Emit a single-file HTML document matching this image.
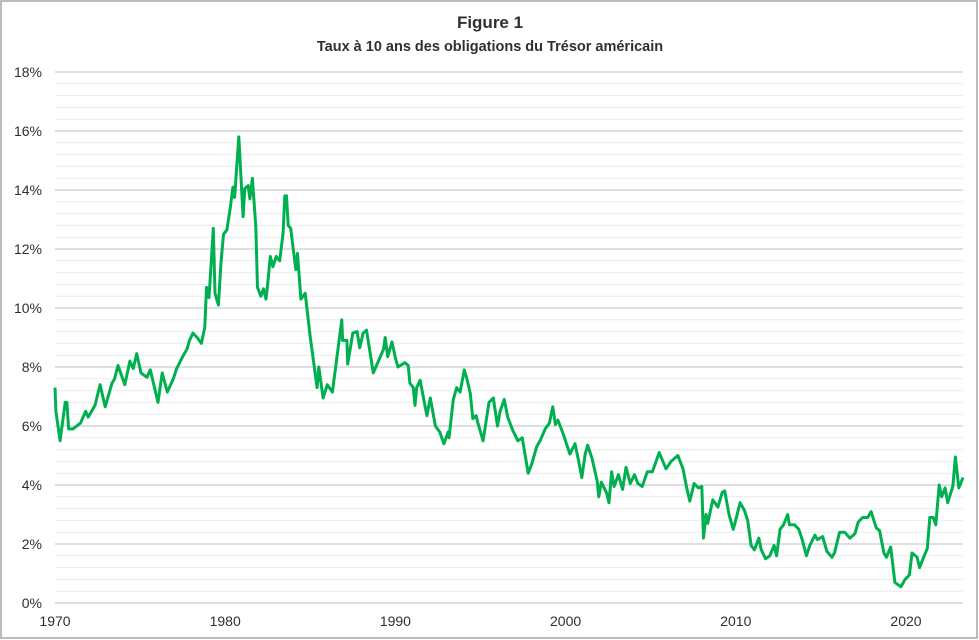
<!DOCTYPE html>
<html><head><meta charset="utf-8"><style>
body{margin:0;background:#fff;}
svg{display:block;font-family:"Liberation Sans",Arial,sans-serif;}
</style></head><body>
<svg id="chart" width="979" height="640">
<rect x="1" y="1" width="976" height="637" fill="#fff" stroke="#a6a6a6" stroke-width="1.5"/>
<text x="490" y="28" text-anchor="middle" font-size="17" font-weight="bold" fill="#303030">Figure 1</text>
<text x="490" y="51" text-anchor="middle" font-size="14.5" font-weight="bold" fill="#303030">Taux à 10 ans des obligations du Trésor américain</text>
<g id="grid"></g><g id="yticks"></g><g id="xticks"></g><g id="series"></g>
</svg>
<script>
const yearPts=[1970.0,1970.05,1970.3,1970.6,1970.7,1970.8,1971.05,1971.5,1971.8,1971.95,1972.35,1972.65,1972.95,1973.35,1973.5,1973.7,1974.1,1974.4,1974.6,1974.8,1975.05,1975.4,1975.6,1976.05,1976.3,1976.6,1976.95,1977.15,1977.5,1977.75,1977.9,1978.1,1978.35,1978.6,1978.8,1978.9,1979.05,1979.3,1979.4,1979.6,1979.75,1979.9,1980.1,1980.3,1980.45,1980.55,1980.8,1981.05,1981.15,1981.35,1981.45,1981.6,1981.8,1981.9,1982.1,1982.25,1982.4,1982.5,1982.65,1982.8,1983.0,1983.2,1983.4,1983.5,1983.6,1983.7,1983.85,1984.15,1984.25,1984.45,1984.7,1985.0,1985.4,1985.5,1985.75,1986.0,1986.3,1986.85,1986.9,1987.15,1987.2,1987.5,1987.75,1987.9,1988.1,1988.3,1988.7,1989.0,1989.3,1989.4,1989.55,1989.8,1990.0,1990.15,1990.55,1990.75,1990.85,1991.05,1991.15,1991.25,1991.45,1991.85,1992.05,1992.35,1992.6,1992.85,1993.1,1993.15,1993.4,1993.6,1993.8,1994.05,1994.2,1994.4,1994.55,1994.75,1994.85,1995.15,1995.5,1995.75,1996.0,1996.15,1996.4,1996.6,1996.9,1997.2,1997.45,1997.8,1998.0,1998.3,1998.5,1998.8,1999.05,1999.25,1999.4,1999.55,1999.85,2000.25,2000.55,2000.75,2000.95,2001.15,2001.3,2001.55,2001.85,2001.95,2002.1,2002.4,2002.55,2002.7,2002.85,2003.1,2003.35,2003.55,2003.8,2004.05,2004.25,2004.5,2004.8,2005.1,2005.5,2005.9,2006.2,2006.6,2006.9,2007.1,2007.3,2007.55,2007.8,2008.0,2008.1,2008.25,2008.35,2008.65,2008.95,2009.2,2009.35,2009.6,2009.85,2009.95,2010.25,2010.5,2010.7,2010.9,2011.1,2011.35,2011.5,2011.75,2012.0,2012.25,2012.4,2012.6,2012.8,2013.05,2013.15,2013.45,2013.7,2013.9,2014.15,2014.35,2014.65,2014.8,2015.1,2015.35,2015.65,2015.8,2016.1,2016.4,2016.7,2017.0,2017.2,2017.45,2017.75,2017.95,2018.25,2018.45,2018.7,2018.85,2019.1,2019.35,2019.7,2019.95,2020.2,2020.35,2020.65,2020.8,2021.0,2021.25,2021.4,2021.6,2021.75,2021.95,2022.1,2022.3,2022.45,2022.75,2022.9,2023.1,2023.35];
const ratePts=[7.3,6.5,5.5,6.8,6.8,5.9,5.9,6.1,6.5,6.3,6.7,7.4,6.65,7.45,7.6,8.05,7.4,8.2,7.95,8.45,7.8,7.65,7.9,6.8,7.8,7.15,7.6,7.95,8.35,8.6,8.9,9.15,9.0,8.8,9.35,10.7,10.35,12.7,10.5,10.1,11.5,12.5,12.65,13.4,14.1,13.75,15.8,13.1,14.05,14.15,13.7,14.4,12.75,10.7,10.4,10.65,10.3,10.85,11.75,11.4,11.75,11.6,12.55,13.8,13.8,12.8,12.7,11.3,11.85,10.3,10.5,9.0,7.3,8.0,6.95,7.4,7.15,9.6,8.9,8.9,8.1,9.15,9.2,8.65,9.15,9.25,7.8,8.2,8.6,9.0,8.35,8.85,8.3,8.0,8.15,8.05,7.45,7.3,6.7,7.3,7.55,6.35,6.95,6.0,5.8,5.4,5.8,5.6,6.9,7.3,7.15,7.9,7.6,7.1,6.25,6.35,6.1,5.5,6.8,6.95,6.0,6.5,6.9,6.3,5.85,5.5,5.6,4.4,4.7,5.3,5.5,5.9,6.1,6.65,6.05,6.2,5.75,5.05,5.4,4.85,4.25,5.05,5.35,4.9,4.15,3.6,4.1,3.75,3.4,4.45,3.95,4.35,3.85,4.6,4.05,4.35,4.05,3.95,4.45,4.45,5.1,4.55,4.8,5.0,4.55,3.95,3.45,4.05,3.9,3.95,2.2,3.0,2.7,3.5,3.25,3.75,3.8,3.0,2.5,2.7,3.4,3.15,2.8,1.95,1.8,2.2,1.8,1.5,1.6,1.95,1.6,2.5,2.65,3.0,2.65,2.65,2.5,2.15,1.6,1.95,2.3,2.15,2.25,1.75,1.55,1.7,2.4,2.4,2.2,2.35,2.75,2.9,2.9,3.1,2.55,2.45,1.7,1.55,1.9,0.7,0.55,0.8,0.95,1.7,1.55,1.2,1.5,1.85,2.9,2.9,2.65,4.0,3.6,3.9,3.4,3.95,4.95,3.9,4.25];
const yTickVals=[0,2,4,6,8,10,12,14,16,18];
const xTickYears=[1970,1980,1990,2000,2010,2020];

const NS="http://www.w3.org/2000/svg";
const X0=55,X1=963,Y0=603,Y1=72;
const xScale=y=>X0+(y-1970)*17.02;
const yScale=v=>Y0-(v/18)*(Y0-Y1);
function mk(tag,attrs,parent){const e=document.createElementNS(NS,tag);for(const k in attrs)e.setAttribute(k,attrs[k]);parent.appendChild(e);return e;}
const grid=document.getElementById('grid'),yt=document.getElementById('yticks'),xt=document.getElementById('xticks'),ser=document.getElementById('series');
for(let v=0;v<=18.001;v+=0.4){
  const major=Math.abs(v/2-Math.round(v/2))<1e-6;
  if(major)continue;
  const l=mk('line',{x1:X0,x2:X1,y1:yScale(v),y2:yScale(v),stroke:'#ececec','stroke-width':1},grid);
  
  
}
yTickVals.forEach(v=>{
  const l=mk('line',{x1:X0,x2:X1,y1:yScale(v),y2:yScale(v),stroke:'#bfbfbf','stroke-width':1},grid);
  
  
  const t=mk('text',{x:42,y:yScale(v)+5,'text-anchor':'end','font-size':14,fill:'#2e2e2e'},yt);
  t.textContent=v+'%';
  
  
});
xTickYears.forEach(y=>{
  const t=mk('text',{x:xScale(y),y:626,'text-anchor':'middle','font-size':14,fill:'#2e2e2e'},xt);
  t.textContent=y;
  
  
});
const d=yearPts.map((y,i)=>(i?'L':'M')+xScale(y).toFixed(1)+','+yScale(ratePts[i]).toFixed(1)).join(' ');
const p=mk('path',{d:d,fill:'none',stroke:'#00b050','stroke-width':3,'stroke-linejoin':'round'},ser);


</script>
</body></html>
